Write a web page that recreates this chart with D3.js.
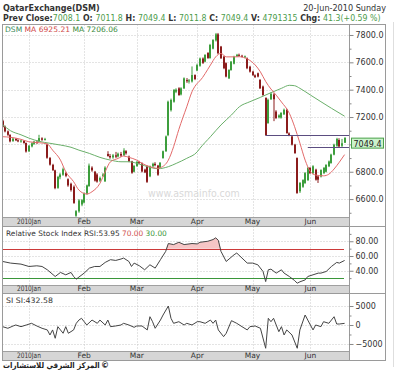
<!DOCTYPE html>
<html>
<head>
<meta charset="utf-8">
<script src="https://cdnjs.cloudflare.com/ajax/libs/d3/7.8.5/d3.min.js"></script>
<style>
  body { margin: 0; background: #fff; }
  svg { display: block; }
  text { font-family: "DejaVu Sans", Verdana, sans-serif; white-space: pre; }
</style>
</head>
<body>
<svg id="chart" width="400" height="372"></svg>
<script>
// daily candles, Sun-Thu trading days from 20 Dec 2009 to 20 Jun 2010
const opens = [7170,7130,7095,7068,7025,7040,7030,7024,7026,7010,6950,6985,7004,7018,7022,7044,7034,6998,6900,6850,
  6810,6682,6760,6778,6790,6745,6712,6690,6478,6510,6560,6575,6640,6695,6830,6800,6780,6735,6770,6730,
  6930,6915,6905,6920,6912,6930,6920,6950,6910,6876,6800,6842,6870,6862,6815,6840,6766,6840,6858,6845,
  6830,6900,6950,7068,7250,7312,7385,7410,7365,7410,7470,7460,7460,7507,7540,7575,7628,7605,7668,7632,
  7700,7760,7805,7715,7642,7594,7483,7544,7590,7645,7655,7648,7638,7630,7568,7532,7505,7520,7471,7423,
  7339,7156,7330,7365,7240,7198,7195,7220,7253,7080,7058,6998,6900,6657,6690,6718,6739,6828,6790,6815,
  6765,6765,6790,6800,6840,6864,6925,6990,7032,6990,7011.8];
const highs = [7180,7138,7102,7075,7048,7046,7038,7034,7030,7014,6995,7015,7026,7030,7070,7052,7048,7006,6908,6858,
  6815,6770,6790,6830,6800,6752,6720,6700,6520,6600,6600,6648,6706,6860,6840,6806,6790,6765,6790,6840,
  6950,6930,6930,6945,6940,6945,6972,6958,6918,6880,6850,6880,6880,6868,6822,6846,6845,6866,6870,6850,
  6870,6955,7065,7320,7335,7405,7410,7418,7418,7490,7485,7478,7570,7512,7590,7635,7636,7660,7675,7735,
  7770,7815,7815,7720,7648,7600,7550,7610,7648,7662,7664,7655,7650,7636,7575,7538,7512,7525,7478,7430,
  7345,7335,7380,7375,7250,7220,7236,7262,7260,7088,7064,7004,6905,6725,6745,6798,6835,6835,6848,6822,
  6772,6818,6835,6856,6882,6932,7005,7048,7045,7040,7049.4];
const lows = [7125,7088,7062,7015,7018,7024,7016,7012,7005,6940,6944,6978,6996,7002,7016,7026,7028,6895,6845,6805,
  6672,6675,6745,6770,6760,6690,6655,6565,6470,6500,6548,6568,6632,6690,6800,6728,6720,6725,6762,6725,
  6910,6895,6895,6900,6905,6908,6915,6925,6870,6785,6795,6835,6855,6795,6790,6718,6760,6832,6840,6770,
  6825,6895,6945,7060,7240,7305,7375,7355,7358,7405,7450,7445,7452,7470,7535,7568,7588,7600,7625,7626,
  7695,7752,7660,7625,7550,7490,7478,7538,7585,7640,7642,7636,7630,7550,7525,7500,7485,7490,7405,7355,
  7062,7150,7325,7170,7185,7190,7188,7215,7078,7060,6992,6930,6638,6645,6682,6710,6732,6783,6782,6735,
  6718,6758,6783,6795,6834,6858,6920,6982,6978,6980,7011.8];
const closes = [7130,7095,7070,7022,7042,7030,7022,7028,7010,6948,6990,7008,7020,7010,7046,7034,7040,6902,6852,6812,
  6680,6762,6780,6818,6770,6700,6666,6572,6512,6590,6592,6640,6700,6845,6810,6735,6728,6755,6780,6830,
  6915,6905,6920,6910,6932,6918,6955,6935,6876,6793,6842,6872,6862,6802,6795,6726,6840,6858,6848,6778,
  6866,6950,7058,7312,7325,7398,7400,7361,7410,7483,7462,7468,7507,7478,7580,7628,7596,7654,7632,7727,
  7763,7805,7667,7630,7557,7496,7544,7605,7640,7655,7650,7642,7644,7557,7532,7507,7492,7496,7410,7361,
  7068,7326,7370,7330,7193,7212,7230,7253,7083,7068,6998,6937,6645,6718,6739,6790,6828,6790,6840,6742,
  6742,6812,6828,6849,6875,6925,6998,7040,6985,7008.1,7049.4];

// moving averages as [trading day, value]
const maShort = [[0,7056],[3,7052],[7,7037],[10,7019],[14,7012],[17,7003],[19,6958],[22,6885],[24,6800],[27,6727],
  [29,6666],[32,6637],[34,6654],[37,6715],[39,6800],[41,6873],[44,6898],[46,6915],[48,6905],[51,6885],
  [53,6861],[56,6837],[59,6825],[60,6830],[63,6885],[65,6983],[67,7110],[70,7275],[72,7385],[74,7447],
  [75,7465],[79,7580],[81,7640],[83,7665],[85,7640],[88,7640],[90,7641],[93,7625],[96,7581],[98,7530],
  [100,7460],[102,7405],[104,7360],[106,7310],[109,7227],[111,7129],[113,7010],[115,6885],[117,6800],
  [119,6776],[122,6770],[124,6782],[126,6820],[128,6870],[130,6925.21]];
const maLong = [[0,7145],[3,7100],[7,7070],[10,7046],[14,7022],[18,7008],[22,6995],[26,6979],[29,6958],[33,6934],
  [37,6905],[41,6885],[45,6873],[48,6873],[52,6856],[56,6832],[59,6822],[63,6837],[66,6861],[70,6898],
  [74,6946],[75,6971],[79,7056],[83,7142],[87,7215],[90,7275],[94,7312],[98,7344],[102,7378],[106,7410],
  [109,7432],[111,7429],[113,7410],[117,7361],[121,7312],[125,7264],[130,7206.06]];

const rsiPoints = [[0,52.6],[3,50.4],[7,49],[10,45.8],[13,46.7],[15,45.8],[17,41.3],[20,32.2],[22,37.7],[24,34.5],
  [26,37.7],[27,32.2],[28,28.6],[29,31.4],[31,36.8],[33,43.6],[35,45.8],[37,45.8],[39,51.3],[41,55],
  [43,54],[45,55.9],[46,57.2],[48,52.6],[49,45.8],[50,50.4],[52,46.7],[54,41.3],[56,48.1],[58,43.6],
  [60,55],[62,66.3],[63,76.9],[65,75.5],[67,78.6],[69,75.5],[72,76.9],[74,76.4],[75,78.6],[78,80],
  [80,82.3],[81,84.6],[82,81.3],[83,66.3],[85,52.6],[88,61.7],[89,64],[91,57.2],[93,50.4],[95,50.4],
  [97,48.1],[99,39],[100,25.3],[101,41.3],[102,42.2],[104,36.8],[106,41.3],[107,36.8],[109,32.2],[111,26.7],
  [112,23.1],[113,25],[115,27.6],[116,32.2],[118,34.5],[120,36.8],[121,36.8],[123,39],[125,45.8],[127,51.3],
  [128,50.4],[130,53.95]];

const siPoints = [[0,-440],[2,-870],[4,-260],[5,0],[7,-440],[9,0],[11,440],[13,-260],[15,-870],[17,-1300],
  [18,-2630],[19,-1300],[20,-3500],[21,-440],[23,-2180],[24,-440],[25,-2180],[27,-1300],[28,440],[29,1300],
  [30,1760],[31,870],[32,0],[34,1300],[36,440],[37,1300],[39,0],[40,1300],[41,-440],[43,-260],
  [45,0],[46,440],[48,0],[50,-610],[51,-260],[53,-260],[55,-1300],[56,2180],[57,870],[58,-870],
  [60,1300],[61,2630],[63,5000],[64,1760],[65,440],[67,870],[69,0],[70,440],[72,0],[74,870],
  [75,870],[77,440],[79,1300],[80,440],[81,1300],[82,-1300],[84,-3070],[85,-2180],[87,1140],[89,440],
  [91,-440],[93,-1300],[94,-440],[96,-260],[98,-870],[100,-6130],[101,1760],[102,870],[103,1760],[105,-1760],
  [106,-440],[107,-2630],[108,-1300],[110,-2630],[112,-6130],[113,-1300],[115,2630],[116,1300],[118,-1300],[119,0],
  [121,-440],[122,870],[124,440],[126,2180],[127,260],[128,260],[130,432.58]];

// horizontal level lines: [value, first trading day]
const levelLines = [[7068, 100], [6982, 116]];

const priceTicks = [6600, 6800, 7000, 7200, 7400, 7600, 7800];
const priceMinor = [6500, 6700, 6900, 7100, 7300, 7500, 7700];
const rsiTicks = [40, 60, 80];
const rsiMinor = [30, 50, 70, 90];
const rsiLevels = [70, 30];
const siTicks = [-5000, 0, 5000];
const siMinor = [-2500, 2500];
const monthLabels = ["2010Jan", "Feb", "Mar", "Apr", "May", "Jun"];

const quoteLabels = ["Prev Close:", " O: ", " H: ", " L: ", " C: ", " V: ", " Chg: "];
const quoteValues = ["7008.1", "7011.8", "7049.4", "7011.8", "7049.4", "4791315", "41.3(+0.59 %)"];
const lastPrice = 7049.4;

// trading calendar
const days = d3.timeDay.range(new Date(2009, 11, 20), new Date(2010, 5, 21))
  .filter((d) => d.getDay() !== 5 && d.getDay() !== 6);
const monthIdx = [];
days.forEach((d, i) => {
  if (i > 0 && d.getMonth() !== days[i - 1].getMonth()) monthIdx.push(i);
});

const svg = d3.select("#chart");
const plotL = 2.5, plotR = 349.5, frameR = 385.5;

const panels = [
  { top: 24.5, bottom: 217.5, band: 226.5 },
  { top: 226.5, bottom: 285.5, band: 293.5 },
  { top: 293.5, bottom: 351.5, band: 360.5 }
];

const x = d3.scaleLinear().domain([0, closes.length - 1]).range([2.6, 344.6]);
const yP = d3.scaleLinear().domain([6469, 7873]).range([217, 25]);
const yR = d3.scaleLinear().domain([20, 100]).range([285.5, 226.5]);
const yS = d3.scaleLinear().domain([-6850, 7900]).range([351, 295]);

// squeeze a text horizontally to a given width, keeping it one box
function fitText(sel, x0, y0, width) {
  sel.attr("x", 0).attr("y", 0);
  const len = sel.node().getComputedTextLength();
  sel.attr("transform", `translate(${x0},${y0}) scale(${width / len},1)`);
  return sel;
}

svg.append("rect").attr("width", 400).attr("height", 372).attr("fill", "#fff");

panels.forEach((p, k) => {
  svg.append("clipPath").attr("id", "clip" + k)
    .append("rect").attr("x", plotL).attr("y", p.top).attr("width", plotR - plotL).attr("height", p.bottom - p.top);
});

// grid
const grid = [[priceTicks, yP], [rsiTicks, yR], [siTicks, yS]];
panels.forEach((p, k) => {
  const g = svg.append("g").attr("stroke", "#c8c8c8").attr("stroke-dasharray", "1,2");
  g.selectAll("line.v").data(monthIdx).enter().append("line")
    .attr("x1", (d) => Math.round(x(d)) + 0.5).attr("x2", (d) => Math.round(x(d)) + 0.5)
    .attr("y1", p.top).attr("y2", p.bottom);
  g.selectAll("line.h").data(grid[k][0]).enter().append("line")
    .attr("x1", plotL).attr("x2", plotR)
    .attr("y1", (d) => Math.round(grid[k][1](d)) + 0.5).attr("y2", (d) => Math.round(grid[k][1](d)) + 0.5);
});

// watermark
fitText(svg.append("text").attr("font-size", 10).attr("fill", "#d9d9d9").text("www.asmainfo.com"), 148, 197, 92);

// candles
const main = svg.append("g").attr("clip-path", "url(#clip0)");
const upColor = "#3d9e3d", downColor = "#8b1c1c";
const candles = main.selectAll("g.c").data(closes).enter().append("g")
  .attr("fill", (d, i) => (d >= opens[i] ? upColor : downColor));
candles.append("rect")
  .attr("x", (d, i) => Math.round(x(i)) - 0.5)
  .attr("width", 1)
  .attr("y", (d, i) => yP(highs[i]))
  .attr("height", (d, i) => Math.max(1, yP(lows[i]) - yP(highs[i])));
candles.append("rect")
  .attr("x", (d, i) => Math.round(x(i)) - 1)
  .attr("width", 2)
  .attr("y", (d, i) => yP(Math.max(d, opens[i])))
  .attr("height", (d, i) => Math.max(1, Math.abs(yP(d) - yP(opens[i]))));

// moving averages
const maLine = d3.line().x((d) => x(d[0])).y((d) => yP(d[1])).curve(d3.curveMonotoneX);
main.append("path").attr("d", maLine(maLong)).attr("fill", "none").attr("stroke", "#6aaf6a");
main.append("path").attr("d", maLine(maShort)).attr("fill", "none").attr("stroke", "#e26a6a");

// level lines
main.selectAll("line.lvl").data(levelLines).enter().append("line")
  .attr("x1", (d) => x(d[1])).attr("x2", plotR)
  .attr("y1", (d) => Math.round(yP(d[0])) + 0.5).attr("y2", (d) => Math.round(yP(d[0])) + 0.5)
  .attr("stroke", "#5b4d80");

// RSI panel
const rsiG = svg.append("g").attr("clip-path", "url(#clip1)");
const rsiArea = d3.area().x((d) => x(d[0])).y0(yR(70)).y1((d) => yR(Math.max(d[1], 70)));
rsiG.append("path").attr("d", rsiArea(rsiPoints)).attr("fill", "#f6c6c6");
rsiG.selectAll("line.lv").data(rsiLevels).enter().append("line")
  .attr("x1", plotL).attr("x2", 344)
  .attr("y1", (d) => Math.round(yR(d)) + 0.5).attr("y2", (d) => Math.round(yR(d)) + 0.5)
  .attr("stroke", (d) => (d === 70 ? "#cc3a3a" : "#3a963a"));
const plainLine = (ys) => d3.line().x((d) => x(d[0])).y((d) => ys(d[1]));
rsiG.append("path").attr("d", plainLine(yR)(rsiPoints)).attr("fill", "none").attr("stroke", "#444");

// SI panel
const siG = svg.append("g").attr("clip-path", "url(#clip2)");
siG.append("path").attr("d", plainLine(yS)(siPoints)).attr("fill", "none").attr("stroke", "#444");

// bands with month labels
panels.forEach((p) => {
  svg.append("rect").attr("x", plotL).attr("y", p.bottom).attr("width", plotR - plotL)
    .attr("height", p.band - p.bottom).attr("fill", "#d6d6d6").attr("stroke", "#a0a0a0");
  svg.append("g").selectAll("text").data(monthIdx).enter().append("text")
    .attr("text-anchor", "middle").attr("font-size", 7.5).attr("fill", "#333")
    .text((d, i) => monthLabels[i])
    .each(function (d, i) {
      const t = d3.select(this);
      if (i === 0) fitText(t, x(d), p.band - 2.5, 24);
      else t.attr("x", x(d)).attr("y", p.band - 2.5);
    });
});

// frame
const frame = svg.append("g").attr("fill", "none").attr("stroke", "#9a9a9a");
frame.append("rect").attr("x", plotL).attr("y", 24.5).attr("width", frameR - plotL).attr("height", 360.5 - 24.5);
frame.append("line").attr("x1", plotR).attr("x2", plotR).attr("y1", 24.5).attr("y2", 360.5);
[226.5, 293.5].forEach((yy) => {
  frame.append("line").attr("x1", plotL).attr("x2", frameR).attr("y1", yy).attr("y2", yy);
});
svg.append("line").attr("x1", 393.5).attr("x2", 393.5).attr("y1", 22).attr("y2", 367).attr("stroke", "#dedede");

// right axes
const tagY = yP(lastPrice) + 6;
function styleAxis(g) {
  g.select(".domain").remove();
  g.selectAll(".tick line").attr("stroke", "#888");
  g.selectAll(".tick text").attr("fill", "#333").attr("font-size", 8)
    .attr("font-family", "DejaVu Sans, Verdana, sans-serif");
}
const hideUnderTag = (fmt, s) => (d) => (s === yP && Math.abs(s(d) - tagY) < 9 ? "" : fmt(d));
[[yP, priceTicks, priceMinor, d3.format(".1f")], [yR, rsiTicks, rsiMinor, d3.format(".2f")],
 [yS, siTicks, siMinor, d3.format("d")]].forEach(([s, major, minor, fmt]) => {
  svg.append("g").attr("transform", `translate(${plotR},0)`)
    .call(d3.axisRight(s).tickValues(minor).tickSize(2).tickFormat(""))
    .call(styleAxis);
  svg.append("g").attr("transform", `translate(${plotR},0)`)
    .call(d3.axisRight(s).tickValues(major).tickSize(4).tickPadding(2).tickFormat(hideUnderTag(fmt, s)))
    .call(styleAxis);
});

// last price tag
svg.append("rect").attr("x", 351.5).attr("y", tagY - 5.5).attr("width", 32).attr("height", 10)
  .attr("fill", "#ccf2cc").attr("stroke", "#4aa04a");
svg.append("text").attr("x", 367.5).attr("y", tagY + 3).attr("text-anchor", "middle")
  .attr("font-size", 8).attr("fill", "#222").text(d3.format(".1f")(lastPrice));

// headers
fitText(svg.append("text").attr("font-size", 9).attr("font-weight", "bold").attr("fill", "#333")
  .text("QatarExchange(DSM)"), 3, 10.5, 97);
fitText(svg.append("text").attr("font-size", 8.5).attr("text-anchor", "end").attr("fill", "#333")
  .text("20-Jun-2010 Sunday"), 386, 10.5, 83);

const quote = svg.append("text").attr("font-size", 8.5);
quoteLabels.forEach((lab, i) => {
  quote.append("tspan").attr("font-weight", "bold").attr("fill", "#333").text(lab);
  quote.append("tspan").attr("fill", "#4c9c4c").text(quoteValues[i]);
});
fitText(quote, 3, 20.5, 378);

const legend = svg.append("text").attr("font-size", 7.5);
legend.append("tspan").attr("fill", "#3a8a5a").text("DSM ");
legend.append("tspan").attr("fill", "#d04848").text("MA " + d3.format(".2f")(maShort[maShort.length - 1][1]) + " ");
legend.append("tspan").attr("fill", "#3a8a3a").text("MA " + d3.format(".2f")(maLong[maLong.length - 1][1]));
fitText(legend, 5, 31.5, 113);

const rsiHead = svg.append("text").attr("font-size", 7.5);
rsiHead.append("tspan").attr("fill", "#333")
  .text("Relative Stock Index RSI:" + d3.format(".2f")(rsiPoints[rsiPoints.length - 1][1]) + " ");
rsiHead.append("tspan").attr("fill", "#d05050").text("70.00 ");
rsiHead.append("tspan").attr("fill", "#3a963a").text("30.00");
fitText(rsiHead, 6, 236, 161);

fitText(svg.append("text").attr("font-size", 7.5).attr("fill", "#333")
  .text("SI SI:" + d3.format(".2f")(siPoints[siPoints.length - 1][1])), 6, 302.5, 47);

// copyright line
fitText(svg.append("text").attr("font-size", 8).attr("font-weight", "bold").attr("fill", "#222")
  .text("المركز الشرقي للاستشارات"), 3, 368, 97);
svg.append("text").attr("x", 101).attr("y", 368).attr("font-size", 8).attr("font-weight", "bold")
  .attr("fill", "#222").text("©");
</script>
</body>
</html>
